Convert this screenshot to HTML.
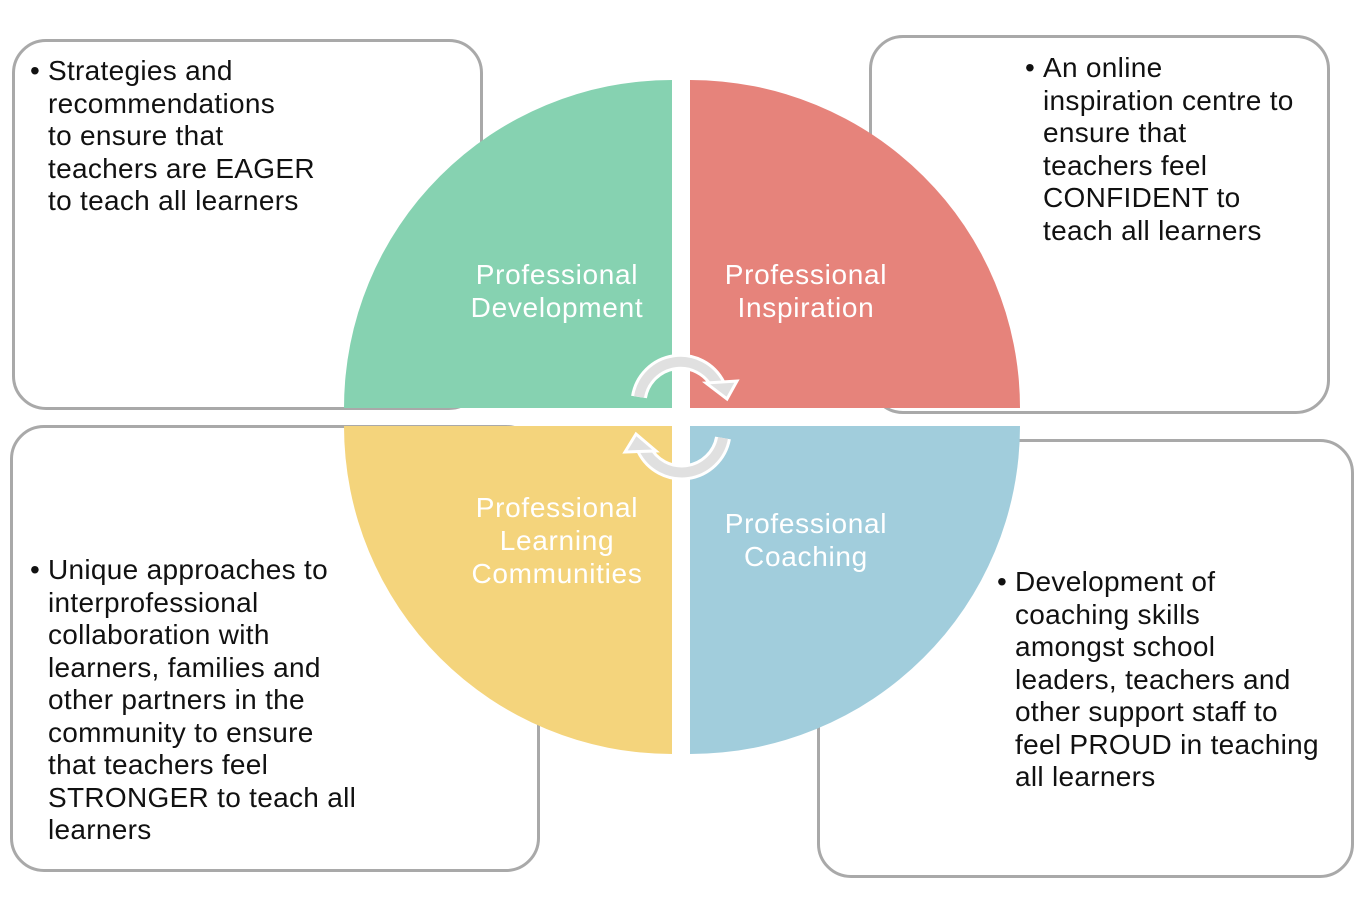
<!DOCTYPE html>
<html><head><meta charset="utf-8"><style>
body{margin:0;background:#fff;width:1366px;height:910px;overflow:hidden;position:relative;font-family:"Liberation Sans",Arial,sans-serif;}
.box{position:absolute;border:3px solid #a9a9a9;border-radius:34px;background:#fff;box-sizing:border-box;}
.t{position:absolute;font-size:28px;letter-spacing:0.3px;line-height:32.5px;color:#111;white-space:nowrap;}
.t .b{position:absolute;left:-18px;}
.q{position:absolute;color:#fff;font-size:28px;letter-spacing:0.7px;line-height:33px;text-align:center;width:260px;}
</style></head><body>
<div class="box" style="left:12px;top:39px;width:471px;height:371px"></div>
<div class="box" style="left:869px;top:35px;width:461px;height:379px"></div>
<div class="box" style="left:10px;top:425px;width:530px;height:447px"></div>
<div class="box" style="left:817px;top:439px;width:537px;height:439px"></div>
<svg style="position:absolute;left:0;top:0" width="1366" height="910">
<path d="M672 408 L344 408 A328 328 0 0 1 672 80 Z" fill="#86d2b1"/>
<path d="M690 408 L690 80 A330 328 0 0 1 1020 408 Z" fill="#e6837b"/>
<path d="M672 426 L672 754 A328 328 0 0 1 344 426 Z" fill="#f4d47c"/>
<path d="M690 426 L1020 426 A330 328 0 0 1 690 754 Z" fill="#a1cddc"/>
<g fill="none" stroke-linecap="butt">
<path d="M639 397 A42 42 0 0 1 718 385" stroke="#fff" stroke-width="16"/>
<path d="M639 397 A42 42 0 0 1 718 385" stroke="#e0e0e0" stroke-width="10"/>
<path d="M723 438 A42 42 0 0 1 644 449" stroke="#fff" stroke-width="16"/>
<path d="M723 438 A42 42 0 0 1 644 449" stroke="#e0e0e0" stroke-width="10"/>
</g>
<polygon points="706,383 737,381 727,399" fill="#e0e0e0" stroke="#fff" stroke-width="3"/>
<polygon points="656,451 625,452 636,434" fill="#e0e0e0" stroke="#fff" stroke-width="3"/>
</svg>
<div class="q" style="left:427px;top:258px">Professional<br>Development</div>
<div class="q" style="left:676px;top:258px">Professional<br>Inspiration</div>
<div class="q" style="left:427px;top:491px">Professional<br>Learning<br>Communities</div>
<div class="q" style="left:676px;top:507px">Professional<br>Coaching</div>
<div class="t" style="left:48px;top:55px"><span class="b">•</span>Strategies and<br>recommendations<br>to ensure that<br>teachers are EAGER<br>to teach all learners</div>
<div class="t" style="left:1043px;top:52px"><span class="b">•</span>An online<br>inspiration centre to<br>ensure that<br>teachers feel<br>CONFIDENT to<br>teach all learners</div>
<div class="t" style="left:48px;top:554px"><span class="b">•</span>Unique approaches to<br>interprofessional<br>collaboration with<br>learners, families and<br>other partners in the<br>community to ensure<br>that teachers feel<br>STRONGER to teach all<br>learners</div>
<div class="t" style="left:1015px;top:566px"><span class="b">•</span>Development of<br>coaching skills<br>amongst school<br>leaders, teachers and<br>other support staff to<br>feel PROUD in teaching<br>all learners</div>
</body></html>
